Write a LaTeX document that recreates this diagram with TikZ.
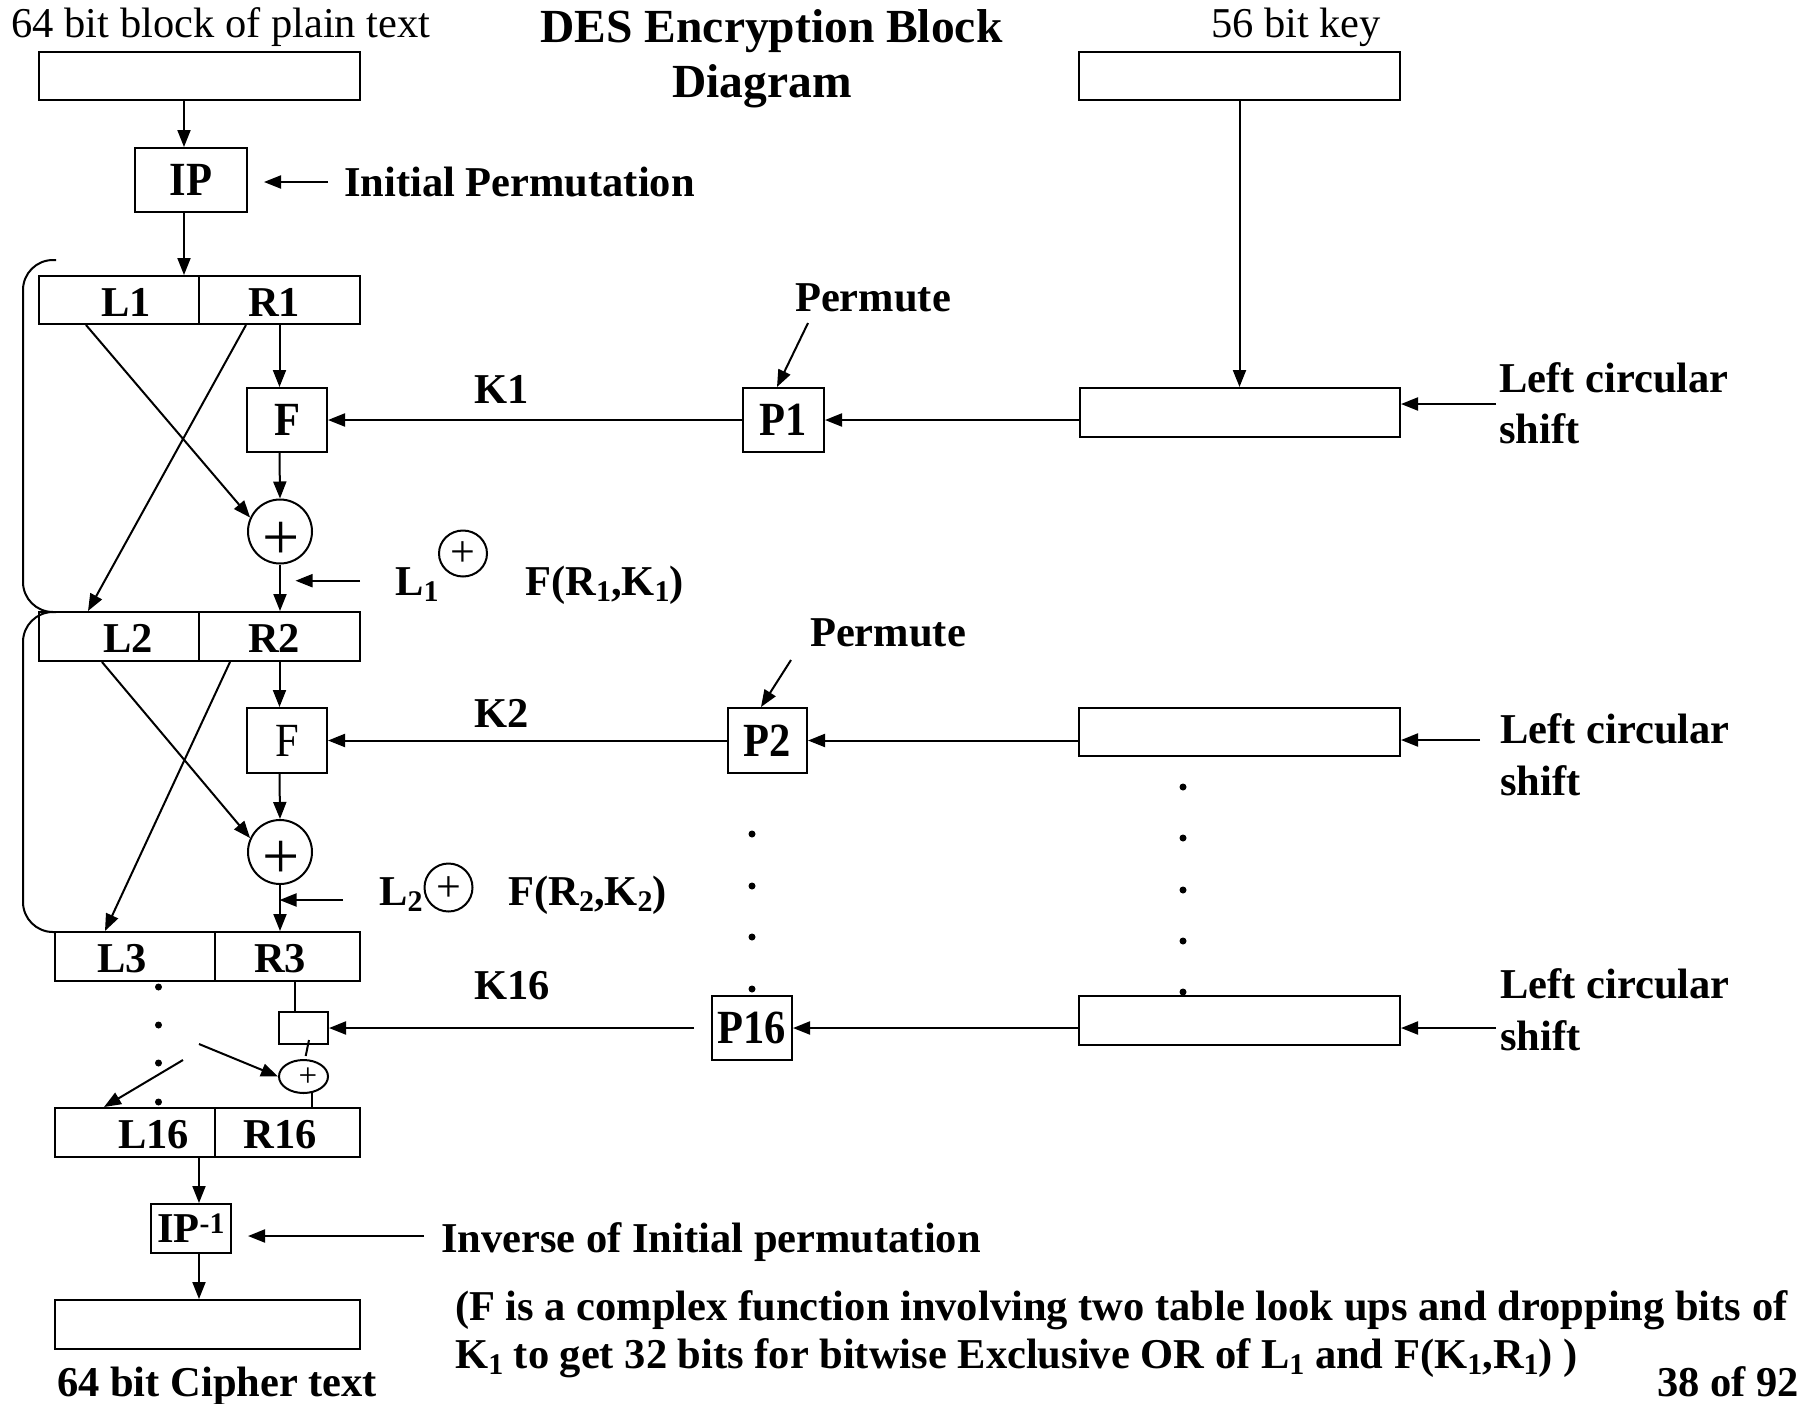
\documentclass[tikz,border=0pt]{standalone}
\usepackage{fontspec}
\setmainfont{Liberation Serif}
\usetikzlibrary{arrows.meta,shapes.geometric,calc}
\newcommand\fN{\fontsize{42.5}{50}\selectfont}
\newcommand\fT{\fontsize{47.5}{55}\selectfont}
\newcommand\fP{\fontsize{66}{72}\selectfont}
\newcommand\fS{\fontsize{44}{50}\selectfont}
\newcommand\fSS{\fontsize{33}{40}\selectfont}
\newcommand\subs[1]{\raisebox{-6pt}{\fontsize{30}{32}\selectfont #1}}
\newcommand\tall[1]{\scalebox{1}[1.12]{#1}}
\begin{document}
\begin{tikzpicture}[x=1pt,y=-1pt,
  box/.style={draw, line width=2pt, inner sep=0pt},
  wl/.style={line width=2pt},
  ar/.style={line width=2pt, -{Triangle[length=17pt,width=13pt]}},
  txt/.style={inner sep=0pt, font=\fN\bfseries},
  rtxt/.style={inner sep=0pt, font=\fN},
  xorc/.style={draw, circle, line width=2pt, minimum size=64pt, inner sep=0pt},
  lblc/.style={draw, ellipse, line width=2pt, inner sep=0pt},
  dotm/.style={fill, circle, inner sep=0pt, minimum size=7pt}]
\useasboundingbox (0,0) rectangle (1814,1403);
\fill[white] (0,0) rectangle (1814,1403);
\clip (0,0) rectangle (1814,1403);

\coordinate (xL) at (184,0);
\coordinate (xR) at (279.5,0);
\coordinate (xM) at (199,0);

% ---------- top ----------
\node[rtxt, anchor=base] (ptl) at (221,37) {64 bit block of plain text};
\node[txt, font=\fT\bfseries, anchor=base] (t1) at (771.5,42) {DES Encryption Block};
\node[txt, font=\fT\bfseries, anchor=base] (t2) at (762,97) {Diagram};
\node[rtxt, anchor=base] (kl) at (1296,37) {56 bit key};

\node[box, minimum width=321pt, minimum height=48pt] (plain) at (199.5,76) {};
\node[box, minimum width=321pt, minimum height=48pt] (key) at (1239.5,76) {};
\node[box, minimum width=112pt, minimum height=64pt, font=\fN\bfseries] (IP) at (191,180) {\tall{IP}};
\node[txt, anchor=base west] (ipl) at (344,196) {Initial Permutation};
\coordinate (ipa) at (328,182);
\draw[ar, shorten >=16pt] (ipa) -- (ipa -| IP.east);
\draw[ar] (plain.south -| xL) -- (IP.north -| xL);

% ---------- round 1 ----------
\node[box, minimum width=160pt, minimum height=48pt] (L1) at (119,300) {};
\node[box, minimum width=161pt, minimum height=48pt] (R1) at (279.5,300) {};
\node[txt, anchor=base] (L1t) at (126,316) {L1};
\node[txt, anchor=base] (R1t) at (274,316) {R1};
\draw[ar] (IP.south -| xL) -- (L1.north -| xL);

\node[box, minimum width=80pt, minimum height=64pt, font=\fN\bfseries] (F1) at (287,420) {\tall{F}};
\node[xorc] (c1) at (280,531.5) {};
\node[rtxt, font=\fP] (p1) at (281,541) {+};
\draw[ar] (R1.south -| xR) -- (F1.north -| xR);
\draw[ar] (F1.south -| xR) -- (c1.north);

\node[box, minimum width=160pt, minimum height=49pt] (L2) at (119,636.5) {};
\node[box, minimum width=161pt, minimum height=49pt] (R2) at (279.5,636.5) {};
\node[txt, anchor=base] (L2t) at (128,652) {L2};
\node[txt, anchor=base] (R2t) at (274,652) {R2};
\draw[ar] ($(L1.south west)+(48,0)$) -- (c1.155);
\draw[ar] ($(R1.south west)+(48,0)$) -- ($(L2.north west)+(50,0)$);
\draw[ar] (c1.south) -- (R2.north -| c1.south);

\coordinate (la1) at (360,580.7);
\draw[ar, shorten >=16pt] (la1) -- (la1 -| xR);
\node[txt, anchor=base west] (lab1a) at (395,595) {L\subs{1}};
\node[lblc, minimum width=48pt, minimum height=46pt] (lc1) at (463,553.5) {};
\node[rtxt, font=\fS] (lp1) at (463,554) {+};
\node[txt, anchor=base west] (lab1b) at (525,595) {F(R\subs{1},K\subs{1})};

\node[txt, anchor=base west] (K1) at (474,403) {K1};
\node[box, minimum width=81pt, minimum height=64pt, font=\fN\bfseries] (P1) at (783.5,420) {\tall{P1}};
\draw[ar] (P1.west) -- (F1.east);
\node[txt, anchor=base] (pm1) at (873,311) {Permute};
\coordinate (pa1) at (808,323);
\draw[ar] (pa1) -- ($(P1.north)+(-6.5,0)$);

\node[box, minimum width=320pt, minimum height=49pt] (s1) at (1240,412.5) {};
\draw[ar] (key.south) -- (key.south |- s1.north);
\draw[ar] (P1.east -| s1.west) -- (P1.east);
\coordinate (lca1) at (1496,404);
\draw[ar] (lca1) -- (lca1 -| s1.east);
\node[txt, anchor=base west] (lcs1a) at (1499,392) {Left circular};
\node[txt, anchor=base west] (lcs1b) at (1499,443) {shift};

% ---------- round 2 ----------
\node[box, minimum width=80pt, minimum height=65pt, font=\fN] (F2) at (287,740.5) {\tall{F}};
\node[xorc] (c2) at (280,852) {};
\node[rtxt, font=\fP] (p2) at (281,860) {+};
\draw[ar] (R2.south -| xR) -- (F2.north -| xR);
\draw[ar] (F2.south -| xR) -- (c2.north);

\node[box, minimum width=160pt, minimum height=49pt] (L3) at (135,956.5) {};
\node[box, minimum width=145pt, minimum height=49pt] (R3) at (287.5,956.5) {};
\node[txt, anchor=base] (L3t) at (122,972) {L3};
\node[txt, anchor=base] (R3t) at (280,972) {R3};
\draw[ar] ($(L2.south west)+(64,0)$) -- (c2.155);
\draw[ar] ($(R2.south west)+(32,0)$) -- ($(L3.north west)+(51,0)$);
\draw[ar] (c2.south) -- (R3.north -| c2.south);

\coordinate (la2) at (343,900);
\draw[ar] (la2) -- (la2 -| xR);
\node[txt, anchor=base west] (lab2a) at (379,905) {L\subs{2}};
\node[lblc, minimum width=48pt, minimum height=48pt] (lc2) at (448.5,887.5) {};
\node[rtxt, font=\fS] (lp2) at (448.5,889) {+};
\node[txt, anchor=base west] (lab2b) at (508,905) {F(R\subs{2},K\subs{2})};

\node[txt, anchor=base west] (K2) at (474,727) {K2};
\node[box, minimum width=79pt, minimum height=65pt, font=\fN\bfseries] (P2) at (767.5,740.5) {\tall{P2}};
\draw[ar] (P2.west) -- (F2.east);
\node[txt, anchor=base] (pm2) at (888,646) {Permute};
\coordinate (pa2) at (791,660);
\draw[ar] (pa2) -- ($(P2.north)+(-6.5,0)$);

\node[box, minimum width=321pt, minimum height=48pt] (s2) at (1239.5,732) {};
\draw[ar] (P2.east -| s2.west) -- (P2.east);
\coordinate (lca2) at (1480,740);
\draw[ar] (lca2) -- (lca2 -| s2.east);
\node[txt, anchor=base west] (lcs2a) at (1500,743) {Left circular};
\node[txt, anchor=base west] (lcs2b) at (1500,795) {shift};

% ---------- brackets ----------
\draw[wl, rounded corners=30pt] (56,260) -- (23,260) -- (23,612) -- (56,612);
\draw[wl, rounded corners=30pt] (53,612) -- (23,612) -- (23,932) -- (56,932);

% ---------- round 16 ----------
\node[box, minimum width=49pt, minimum height=32pt] (sb) at (303.5,1028) {};
\coordinate (r3b) at ($(R3.south west)+(81,0)$);
\draw[wl] (r3b) -- (r3b |- sb.north);
\node[box, minimum width=80pt, minimum height=64pt, font=\fN\bfseries] (P16) at (752,1028) {\tall{P16}};
\draw[ar, shorten <=17pt] (P16.west) -- (sb.east);
\node[txt, anchor=base west] (K16) at (474,999) {K16};

\node[box, minimum width=321pt, minimum height=49pt] (s3) at (1239.5,1020.5) {};
\draw[ar] (P16.east -| s3.west) -- (P16.east);
\coordinate (lca3) at (1496,1028);
\draw[ar] (lca3) -- (lca3 -| s3.east);
\node[txt, anchor=base west] (lcs3a) at (1500,998) {Left circular};
\node[txt, anchor=base west] (lcs3b) at (1500,1050) {shift};

\node[lblc, minimum width=49pt, minimum height=33pt] (ex) at (303.5,1076.5) {};
\node[rtxt, font=\fSS] (px) at (308,1077) {+};
\draw[wl] ($(sb.south)+(5.5,-5)$) -- ($(sb.south)+(2.2,11)$);

\node[box, minimum width=160pt, minimum height=49pt] (L16) at (135,1132.5) {};
\node[box, minimum width=145pt, minimum height=49pt] (R16) at (287.5,1132.5) {};
\node[txt, anchor=base] (L16t) at (153.5,1148) {L16};
\node[txt, anchor=base] (R16t) at (280,1148) {R16};

\coordinate (sa) at (199,1044);
\draw[ar] (sa) -- (ex.west);
\coordinate (sc) at (183,1060);
\draw[ar] (sc) -- ($(L16.north west)+(50,0)$);
\coordinate (exb) at (311.7,1092);
\draw[wl] (exb) -- (exb |- R16.north);

% dots
\foreach \y [count=\i] in {987,1025,1063,1102} \node[dotm] (dl\i) at (158.5,\y) {};
\foreach \y [count=\i] in {834,886,937,989} \node[dotm] (dp\i) at (752,\y) {};
\foreach \y [count=\i] in {787,838,890,941,992} \node[dotm] (dk\i) at (1183,\y) {};

% ---------- bottom ----------
\node[box, minimum width=80pt, minimum height=49pt, font=\fN\bfseries] (IPi) at (191,1228.5) {IP\textsuperscript{-1}};
\draw[ar] (L16.south -| xM) -- (IPi.north -| xM);
\node[box, minimum width=305pt, minimum height=49pt] (cipher) at (207.5,1324.5) {};
\draw[ar] (IPi.south -| xM) -- (cipher.north -| xM);
\coordinate (iva) at (424,1236);
\draw[ar, shorten >=16pt] (iva) -- (iva -| IPi.east);
\node[txt, anchor=base west] (inv) at (441,1252) {Inverse of Initial permutation};

\node[txt, anchor=base west] (fn1) at (455,1320) {(F is a complex function involving two table look ups and dropping bits of};
\node[txt, anchor=base west] (fn2) at (455,1368) {K\subs{1} to get 32 bits for bitwise Exclusive OR of L\subs{1} and F(K\subs{1},R\subs{1}) )};
\node[txt, anchor=base west] (ct) at (57,1396) {64 bit Cipher text};
\node[txt, anchor=base east] (pg) at (1799,1396) {38 of 92};
\end{tikzpicture}
\end{document}
